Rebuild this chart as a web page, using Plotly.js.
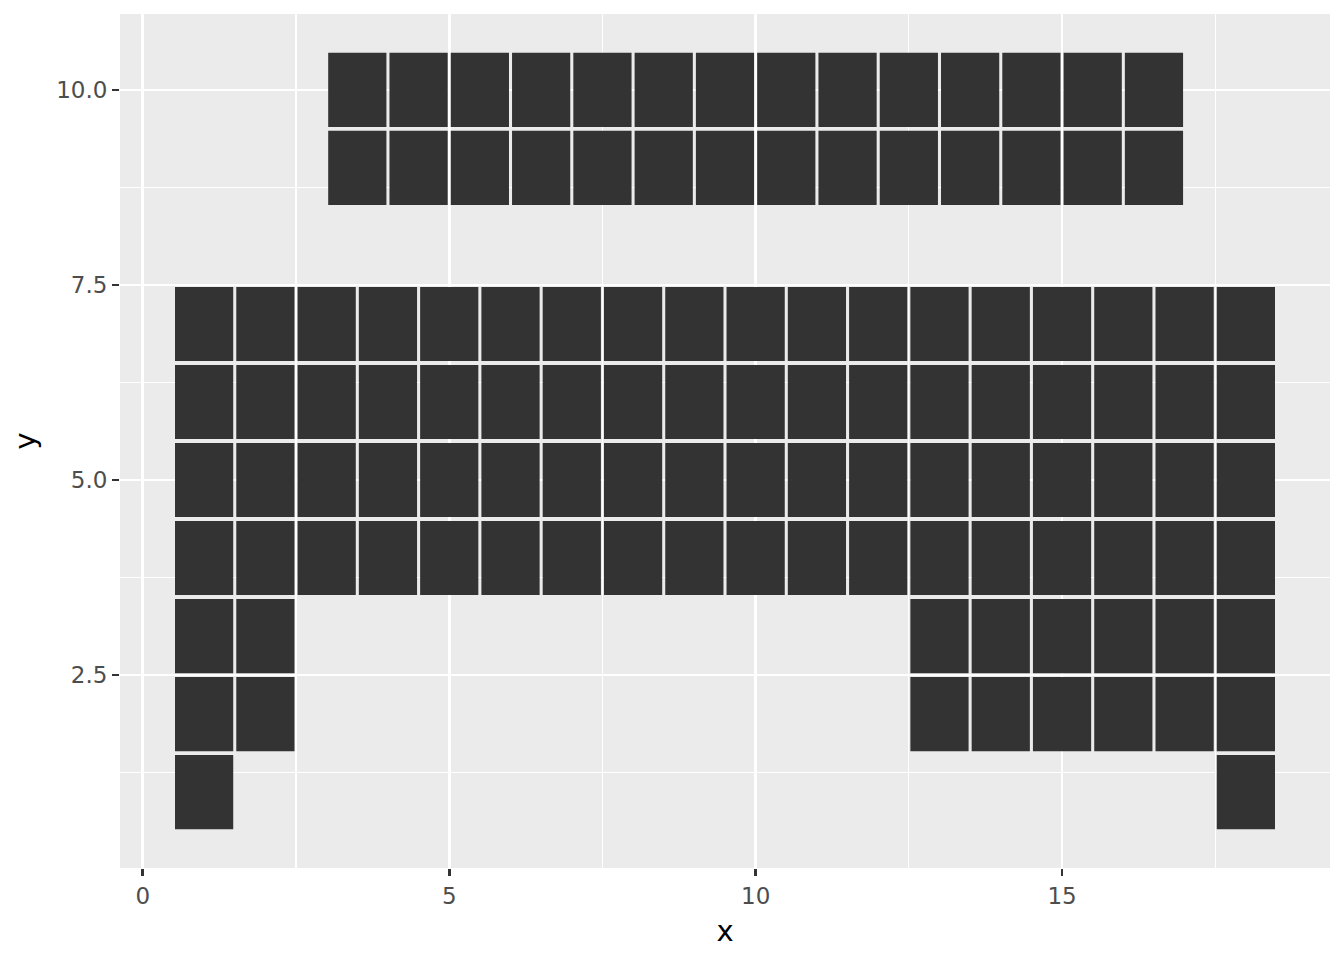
<!DOCTYPE html>
<html>
<head>
<meta charset="utf-8">
<script src="https://cdn.plot.ly/plotly-3.0.1.min.js"></script>
<style>html,body{margin:0;padding:0;background:#fff}</style>
</head>
<body>
<div id="chart" style="width:1344px;height:960px"></div>
<script>
// Tile rows: y centre and the x centres of tiles in that row
const rowY = [1, 2, 3, 4, 5, 6, 7, 9, 10];
const rowX = [
  [1, 18],
  [1, 2, 13, 14, 15, 16, 17, 18],
  [1, 2, 13, 14, 15, 16, 17, 18],
  [1, 2, 3, 4, 5, 6, 7, 8, 9, 10, 11, 12, 13, 14, 15, 16, 17, 18],
  [1, 2, 3, 4, 5, 6, 7, 8, 9, 10, 11, 12, 13, 14, 15, 16, 17, 18],
  [1, 2, 3, 4, 5, 6, 7, 8, 9, 10, 11, 12, 13, 14, 15, 16, 17, 18],
  [1, 2, 3, 4, 5, 6, 7, 8, 9, 10, 11, 12, 13, 14, 15, 16, 17, 18],
  [3.5, 4.5, 5.5, 6.5, 7.5, 8.5, 9.5, 10.5, 11.5, 12.5, 13.5, 14.5, 15.5, 16.5],
  [3.5, 4.5, 5.5, 6.5, 7.5, 8.5, 9.5, 10.5, 11.5, 12.5, 13.5, 14.5, 15.5, 16.5]
];
const tileW = 0.95, tileH = 0.95;
const xTickVals = [0, 5, 10, 15];
const yTickVals = [2.5, 5, 7.5, 10];
const yTickText = ['2.5', '5.0', '7.5', '10.0'];

const px = [], py = [];
let xmin = Infinity, xmax = -Infinity, ymin = Infinity, ymax = -Infinity;
rowY.forEach((y, i) => {
  rowX[i].forEach(x => {
    const x0 = x - tileW / 2, x1 = x + tileW / 2, y0 = y - tileH / 2, y1 = y + tileH / 2;
    px.push(x0, x1, x1, x0, x0, null);
    py.push(y0, y0, y1, y1, y0, null);
    xmin = Math.min(xmin, x0); xmax = Math.max(xmax, x1);
    ymin = Math.min(ymin, y0); ymax = Math.max(ymax, y1);
  });
});
const ex = 0.05 * (xmax - xmin), ey = 0.05 * (ymax - ymin);

const trace = {
  type: 'scatter', mode: 'lines', x: px, y: py,
  fill: 'toself', fillcolor: '#333333',
  line: {color: 'rgba(0,0,0,0)', width: 0},
  hoverinfo: 'skip', showlegend: false, connectgaps: false
};

const layout = {
  width: 1344, height: 960,
  margin: {l: 120, r: 14, t: 14, b: 92},
  paper_bgcolor: '#FFFFFF', plot_bgcolor: '#EBEBEB',
  font: {family: 'DejaVu Sans, sans-serif'}, showlegend: false,
  xaxis: {
    range: [xmin - ex, xmax + ex], tickvals: xTickVals, ticktext: xTickVals.map(String),
    showgrid: true, gridcolor: '#FFFFFF', gridwidth: 2.7, zeroline: false, showline: false,
    ticks: 'outside', ticklen: 7, tickwidth: 2.7, tickcolor: '#333333',
    tickfont: {size: 23, color: '#4D4D4D', family: 'DejaVu Sans'},
    minor: {dtick: 2.5, tick0: 0, showgrid: true, gridcolor: '#FFFFFF', gridwidth: 1.3, ticks: ''},
    title: {text: 'x', font: {size: 29, color: '#000000', family: 'DejaVu Sans'}, standoff: 13},
    automargin: false, fixedrange: true
  },
  yaxis: {
    range: [ymin - ey, ymax + ey], tickvals: yTickVals, ticktext: yTickText,
    showgrid: true, gridcolor: '#FFFFFF', gridwidth: 2.7, zeroline: false, showline: false,
    ticks: 'outside', ticklen: 7, tickwidth: 2.7, tickcolor: '#333333',
    tickfont: {size: 23, color: '#4D4D4D', family: 'DejaVu Sans'},
    minor: {dtick: 1.25, tick0: 0, showgrid: true, gridcolor: '#FFFFFF', gridwidth: 1.3, ticks: ''},
    title: {text: 'y', font: {size: 29, color: '#000000', family: 'DejaVu Sans'}, standoff: 12},
    automargin: false, fixedrange: true
  }
};

Plotly.newPlot('chart', [trace], layout, {displayModeBar: false, staticPlot: true});
</script>
</body>
</html>
